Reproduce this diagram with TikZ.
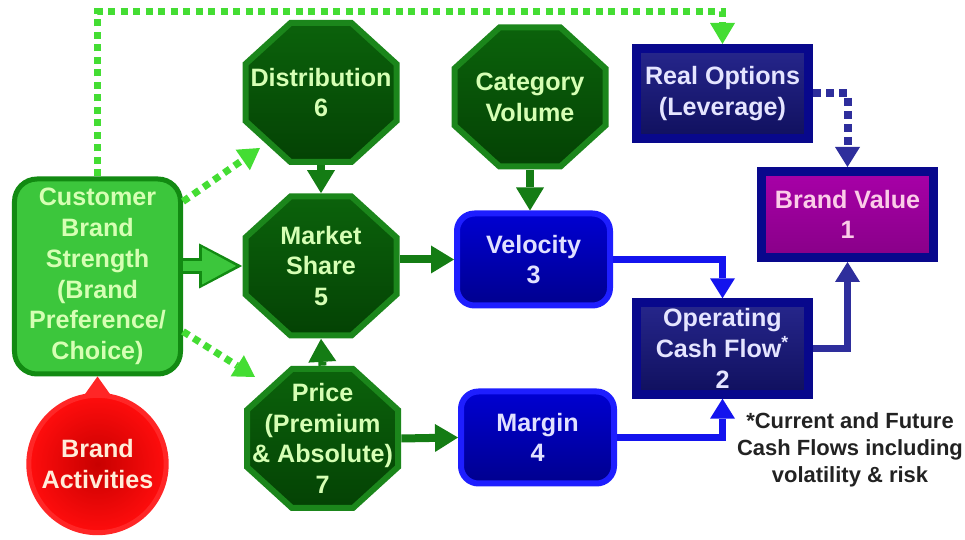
\documentclass[tikz,border=0pt]{standalone}
\usepackage{fontspec}
\setmainfont{Liberation Sans}
\usepackage{tikz}
\usetikzlibrary{arrows.meta,backgrounds}
\definecolor{coct}{HTML}{0B620B}
\definecolor{coctdark}{HTML}{044204}
\definecolor{coctring}{HTML}{1B861B}
\definecolor{coctlab}{HTML}{D6FFB4}
\definecolor{ccust}{HTML}{3CC63C}
\definecolor{ccustring}{HTML}{128A12}
\definecolor{cgarrow}{HTML}{147C14}
\definecolor{cdotg}{HTML}{44DD33}
\definecolor{cblue}{HTML}{0000D2}
\definecolor{cbluedark}{HTML}{00008E}
\definecolor{cbluering}{HTML}{1E1EFF}
\definecolor{cblueline}{HTML}{1414EE}
\definecolor{cnavy}{HTML}{26268C}
\definecolor{cnavydark}{HTML}{10105E}
\definecolor{cnavyring}{HTML}{08088C}
\definecolor{cnavyline}{HTML}{2E2E9C}
\definecolor{cpurple}{HTML}{A800A8}
\definecolor{cpurpledark}{HTML}{880088}
\definecolor{cred}{HTML}{C80000}
\definecolor{credring}{HTML}{FF2626}
\definecolor{cnote}{HTML}{222222}

\begin{document}
\begin{tikzpicture}[
		font={\fontsize{14.3}{17.5}\selectfont\bfseries},
		octbox/.style={rectangle, minimum width=3.14cm, minimum height=2.9cm, inner sep=0pt,
			text=coctlab, align=center},
		octline/.style={top color=coct, bottom color=coctdark, draw=coctring, line width=0.12cm},
		custbox/.style={rectangle, rounded corners=0.45cm, fill=ccust, draw=ccustring, line width=0.1cm,
			text=coctlab, align=center, minimum width=3.32cm, minimum height=3.9cm},
		bluebox/.style={rectangle, rounded corners=0.35cm, top color=cblue, bottom color=cbluedark,
			draw=cbluering, line width=0.12cm,
			text=white!88!blue, align=center, minimum width=3.06cm, minimum height=1.84cm},
		navybox/.style={rectangle, top color=cnavy, bottom color=cnavydark, draw=cnavyring, line width=0.18cm,
			text=white!90!blue, align=center, minimum width=3.44cm, minimum height=1.8cm},
		valuebox/.style={navybox, top color=cpurple, bottom color=cpurpledark, text=white!80!magenta,
			minimum height=1.72cm},
		actcircle/.style={circle, inner color=cred, outer color=red!95!white, draw=credring, line width=0.1cm,
			text=white!85!orange, align=center, minimum size=2.66cm},
		garrow/.style={draw=cgarrow, line width=0.16cm, -{Triangle[width=0.56cm,length=0.46cm,line width=0pt]}},
		barrow/.style={draw=cblueline, line width=0.15cm, -{Triangle[width=0.5cm,length=0.4cm,line width=0pt]}},
		narrow/.style={draw=cnavyline, line width=0.13cm, -{Triangle[width=0.5cm,length=0.4cm,line width=0pt]}},
		dotgreen/.style={draw=cdotg, line width=0.14cm, dash pattern=on 0.14cm off 0.11cm,
			-{Triangle[width=0.5cm,length=0.42cm,line width=0pt]}},
		dotnavy/.style={draw=cnavyline, line width=0.16cm, dash pattern=on 0.16cm off 0.1cm,
			-{Triangle[width=0.5cm,length=0.4cm,line width=0pt]}}
	]
	\useasboundingbox (0,0) rectangle (19.3,10.8);

	% drivers
	\node[custbox] (cbs) at (1.95,5.27) {Customer\\Brand\\Strength\\(Brand\\Preference/\\Choice)};
	\node[actcircle] (ba) at (1.95,1.52) {Brand\\Activities};
	\node[octbox] (dist) at (6.42,8.95) {Distribution\\6};
	\node[octbox] (ms) at (6.42,5.48) {Market\\Share\\5};
	\node[octbox] (price) at (6.45,2.03) {Price\\(Premium\\\& Absolute)\\7};
	\node[octbox] (cv) at (10.6,8.86) {Category\\Volume};

	% octagons behind the green labels
	\begin{scope}[on background layer]
		\foreach \oct in {dist,ms,price,cv}
			\draw[octline, shift={(\oct.center)}] (-0.61,1.39) -- (0.61,1.39) -- (1.51,0.57) -- (1.51,-0.57)
				-- (0.61,-1.39) -- (-0.61,-1.39) -- (-1.51,-0.57) -- (-1.51,0.57) -- cycle;
	\end{scope}

	% value side
	\node[bluebox] (vel) at (10.67,5.61) {Velocity\\3};
	\node[bluebox] (mar) at (10.75,2.05) {Margin\\4};
	\node[navybox] (ro) at (14.45,8.93) {Real Options\\(Leverage)};
	\node[navybox] (ocf) at (14.45,3.83) {Operating\\Cash Flow\textsuperscript{*}\\2};
	\node[valuebox] (bv) at (16.95,6.51) {Brand Value\\1};
	\node[text=cnote, align=center, font={\fontsize{12.5}{15.5}\selectfont\bfseries}] (note) at (17.0,1.8)
		{*Current and Future\\Cash Flows including\\volatility \& risk};

	% spike
	\fill[credring] (ba.100) -- (cbs.south) -- (ba.80) -- cycle;

	% green links
	\draw[dotgreen] (cbs.north) -- (cbs.north |- 0,10.56) -| (ro.north);
	\draw[dotgreen] ([yshift=1.5cm]cbs.east) -- ([shift={(-1.22,-1.11)}]dist.center);
	\draw[dotgreen] ([yshift=-1.1cm]cbs.east) -- ([shift={(-1.35,1.23)}]price.center);
	\draw[draw=ccustring, line width=0.32cm, -{Triangle[width=0.9cm,length=0.86cm,line width=0pt]}] (cbs.east |- ms.west) -- (ms.west);
	\draw[draw=ccust, line width=0.2cm, shorten >=0.12cm, -{Triangle[width=0.74cm,length=0.68cm,line width=0pt]}] (cbs.east |- ms.west) -- (ms.west);
	\draw[garrow] (dist.south) -- (ms.north);
	\draw[garrow] (price.north) -- (ms.south);
	\draw[garrow] (ms.east |- vel.west) -- (vel.west);
	\draw[garrow] (cv.south) -- (cv.south |- vel.north);
	\draw[garrow] (price.east) -- (mar.west);

	% blue links
	\draw[barrow] (vel.east) -| (ocf.north);
	\draw[barrow] (mar.east) -| (ocf.south);
	\draw[narrow] (ocf.east) -| (bv.south);
	\draw[dotnavy] (ro.east) -| (bv.north);
\end{tikzpicture}
\end{document}
